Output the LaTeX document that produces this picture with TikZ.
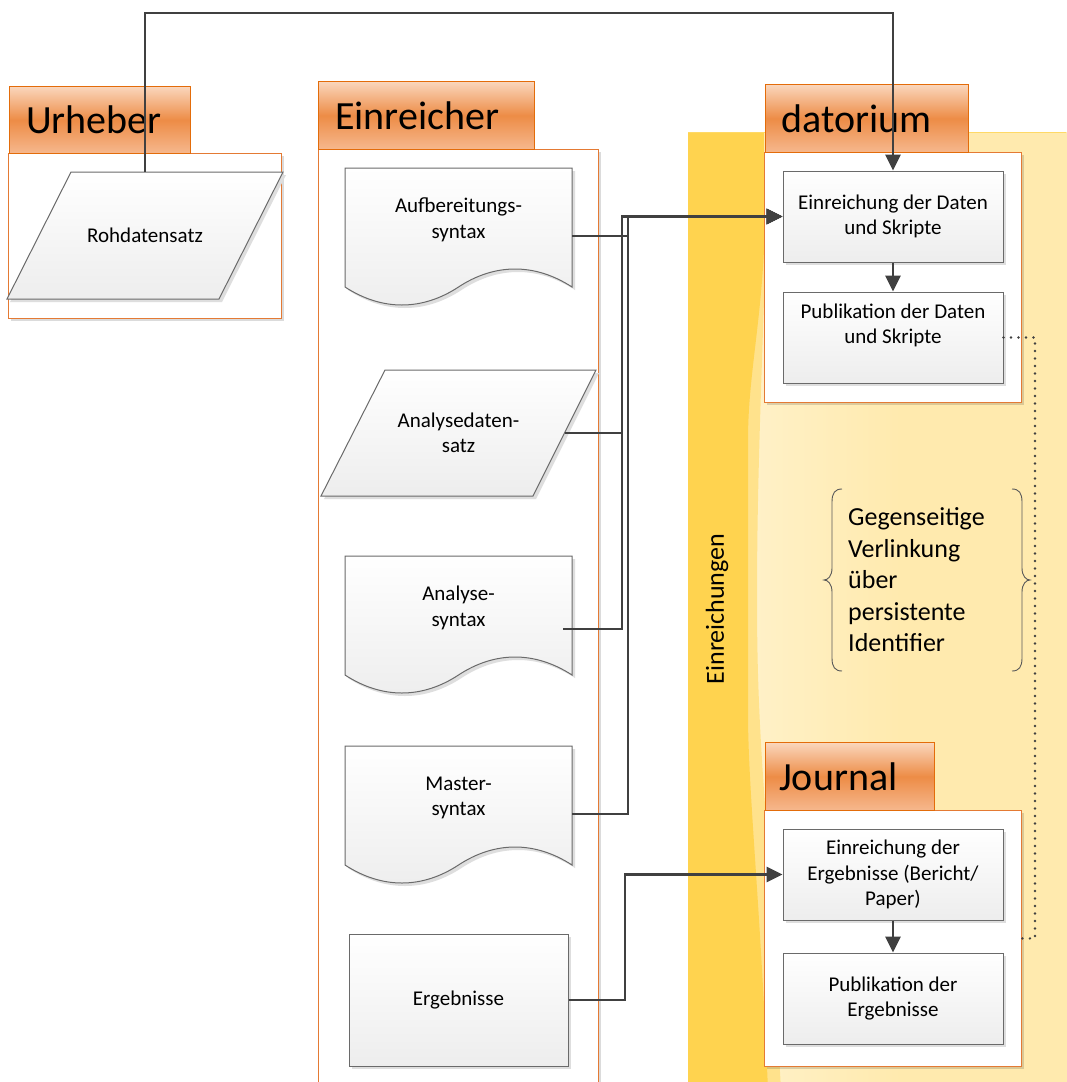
\documentclass[tikz,border=0pt]{standalone}
\usepackage{fontspec}
\setmainfont{Carlito}
\usetikzlibrary{arrows.meta,calc,shadows}

\definecolor{hdrTop}{HTML}{FAD6BC}
\definecolor{hdrMid}{HTML}{ED8C46}
\definecolor{hdrBot}{HTML}{F6B88E}
\definecolor{hdrLine}{HTML}{E36C0A}
\definecolor{bodyLine}{HTML}{E47A34}
\definecolor{laneDark}{HTML}{FFD34F}
\definecolor{laneMid}{HTML}{FFE28C}
\definecolor{lanePale}{HTML}{FFEAAE}
\definecolor{lanePaleL}{HTML}{FFF1C8}
\definecolor{laneEdge}{HTML}{FFD966}
\definecolor{connCol}{HTML}{404040}
\definecolor{shapeLine}{HTML}{6A6A6A}

\newcommand\DocShape[4]{%
  \fill[black!13, shift={(3,3)}] (#2,#3) -- (#2+227,#3) -- (#2+227,#3+119)
    .. controls (#2+190,#3+95) and (#2+150,#3+95) .. (#2+113.5,#3+119)
    .. controls (#2+77,#3+143) and (#2+37,#3+143) .. (#2,#3+119) -- cycle;
  \path[draw=shapeLine, line width=1pt, top color=white, bottom color=black!7]
    (#2,#3) -- (#2+227,#3) -- (#2+227,#3+119)
    .. controls (#2+190,#3+95) and (#2+150,#3+95) .. (#2+113.5,#3+119)
    .. controls (#2+77,#3+143) and (#2+37,#3+143) .. (#2,#3+119) -- cycle;
  \node[minimum width=227pt, minimum height=136pt, inner sep=0pt] (#1) at (#2+113.5,#3+68) {};
  \node[txt] (#1t) at (#2+113.5,#3+52) {#4};
}

\begin{document}
\begin{tikzpicture}[x=1pt,y=-1pt,
  hdr/.style={draw=hdrLine, line width=1.2pt, top color=hdrTop, bottom color=hdrBot, middle color=hdrMid, inner sep=0pt, anchor=north west},
  hdrtxt/.style={font=\fontsize{40}{48}\selectfont, anchor=west, inner sep=0pt},
  body/.style={draw=bodyLine, line width=0.9pt, fill=white, inner sep=0pt, anchor=north west,
     drop shadow={shadow xshift=3pt, shadow yshift=-3pt, opacity=0.14, fill=black}},
  txt/.style={font=\fontsize{21}{25.5}\selectfont, align=center, inner sep=0pt},
  proc/.style={txt, draw=shapeLine, line width=1pt, top color=white, bottom color=black!7,
     minimum width=220pt, minimum height=91pt,
     drop shadow={shadow xshift=3pt, shadow yshift=-3pt, opacity=0.13, fill=black}},
  connector/.style={draw=connCol, line width=2.8pt, -{Triangle[length=16pt,width=15pt]}},
  dotline/.style={draw=connCol, line width=2.6pt, dash pattern=on 0pt off 7.5pt, line cap=round},
  bracestyle/.style={draw=black!65, line width=0.9pt}
]
\useasboundingbox (0,0) rectangle (1066,1082);
\fill[white] (0,0) rectangle (1066,1082);

% ---- lane ----
\fill[lanePale] (688,132) rectangle (1070,1090);
\shade[left color=lanePaleL, right color=lanePale] (750,133) rectangle (900,1090);
\fill[laneMid] (688,132) -- (764,132) -- (764,300) .. controls (760,420) and (757,500) .. (757,600)
   .. controls (757,700) and (762,760) .. (766,820) -- (781,1090) -- (688,1090) -- cycle;
\fill[laneDark] (688,132) -- (764,132) -- (764,250) .. controls (760,330) and (748,380) .. (748,440)
   -- (748,720) .. controls (749,800) and (760,900) .. (768,1090) -- (688,1090) -- cycle;
\draw[laneEdge, line width=1pt] (688,132.5) -- (1066,132.5);
\node[rotate=90, font=\fontsize{26}{30}\selectfont, inner sep=0pt] (lanelbl) at (717,609) {Einreichungen};

% ---- containers ----
\node[body, minimum width=273pt, minimum height=165pt] (ubody) at (8,153) {};
\node[hdr, minimum width=181pt, minimum height=67pt] (uhdr) at (9,86) {};
\node[hdrtxt] (uhdrt) at (26,120) {Urheber};

\node[body, minimum width=280pt, minimum height=951pt] (ebody) at (318,149) {};
\node[hdr, minimum width=216pt, minimum height=68pt] (ehdr) at (318,81) {};
\node[hdrtxt] (ehdrt) at (335,116) {Einreicher};

\node[body, minimum width=257pt, minimum height=250pt] (dbody) at (764,152) {};
\node[hdr, minimum width=203pt, minimum height=68pt] (dhdr) at (765,84) {};
\node[hdrtxt] (dhdrt) at (781,119) {datorium};

\node[body, minimum width=257pt, minimum height=256pt] (jbody) at (764,810) {};
\node[hdr, minimum width=169pt, minimum height=68pt] (jhdr) at (765,742) {};
\node[hdrtxt] (jhdrt) at (779,777) {Journal};

% ---- Urheber shapes ----
\fill[black!13, shift={(3,3)}] (71,172) -- (283,172) -- (219,299) -- (7,299) -- cycle;
\path[draw=shapeLine, line width=1pt, top color=white, bottom color=black!7] (71,172) -- (283,172) -- (219,299) -- (7,299) -- cycle;
\node[txt, minimum width=276pt, minimum height=127pt] (roh) at (145,235.5) {Rohdatensatz};

% ---- Einreicher shapes ----
\DocShape{aufb}{345}{168}{Aufbereitungs-\\syntax}

\fill[black!13, shift={(3,3)}] (385,370) -- (596,370) -- (533,496) -- (321,496) -- cycle;
\path[draw=shapeLine, line width=1pt, top color=white, bottom color=black!7] (385,370) -- (596,370) -- (533,496) -- (321,496) -- cycle;
\node[txt, minimum width=275pt, minimum height=126pt] (ana) at (458.5,433) {Analysedaten-\\satz};
\coordinate (anaE) at ($(ana.east)+(-31.5,0)$);

\DocShape{anas}{345}{556}{Analyse-\\syntax}
\coordinate (anasC) at (563,629);

\DocShape{mast}{345}{746}{Master-\\syntax}

\node[proc, minimum width=219pt, minimum height=132pt] (ergeb) at (458.5,1000) {Ergebnisse};

% ---- datorium / Journal boxes ----
\node[proc] (eind) at (893,216.5) {Einreichung der Daten\\und Skripte};
\node[proc] (pubd) at (893,337.5) {};
\node[txt] (pubdt) at (893,325.5) {Publikation der Daten\\und Skripte};
\node[proc] (jein) at (893,874.5) {Einreichung der\\Ergebnisse (Bericht/\\Paper)};
\node[proc] (jpub) at (893,998.5) {Publikation der\\Ergebnisse};

% ---- braces and text ----
\draw[bracestyle] (842,489) .. controls (835,489) and (832,493) .. (832,502) -- (832,568)
   .. controls (832,576) and (828,580) .. (824,580) .. controls (828,580) and (832,584) .. (832,592)
   -- (832,658) .. controls (832,667) and (835,671) .. (842,671);
\draw[bracestyle] (1012,489) .. controls (1019,489) and (1022,493) .. (1022,502) -- (1022,568)
   .. controls (1022,576) and (1026,580) .. (1030,580) .. controls (1026,580) and (1022,584) .. (1022,592)
   -- (1022,658) .. controls (1022,667) and (1019,671) .. (1012,671);
\node[anchor=west, align=left, font=\fontsize{26}{31.5}\selectfont, inner sep=0pt] (gtxt) at (848,580)
   {Gegenseitige\\Verlinkung\\über\\persistente\\Identifier};

% ---- connectors ----
\draw[dotline] (pubd.east) -- (1035,337.5) |- (jbody.east);
\draw[connector] (roh.north) -- (145,13) -| (eind.north);
\draw[connector] (aufb.east) -- (628,236) |- (eind.west);
\draw[connector] (anaE) -- (622,433) |- (eind.west);
\draw[connector] (anasC) -- (622,629) |- (eind.west);
\draw[connector] (mast.east) -- (628,814) |- (eind.west);
\draw[connector] (ergeb.east) -- (625,1000) |- (jein.west);
\draw[connector] (eind.south) -- (pubd.north);
\draw[connector] (jein.south) -- (jpub.north);
\end{tikzpicture}
\end{document}
